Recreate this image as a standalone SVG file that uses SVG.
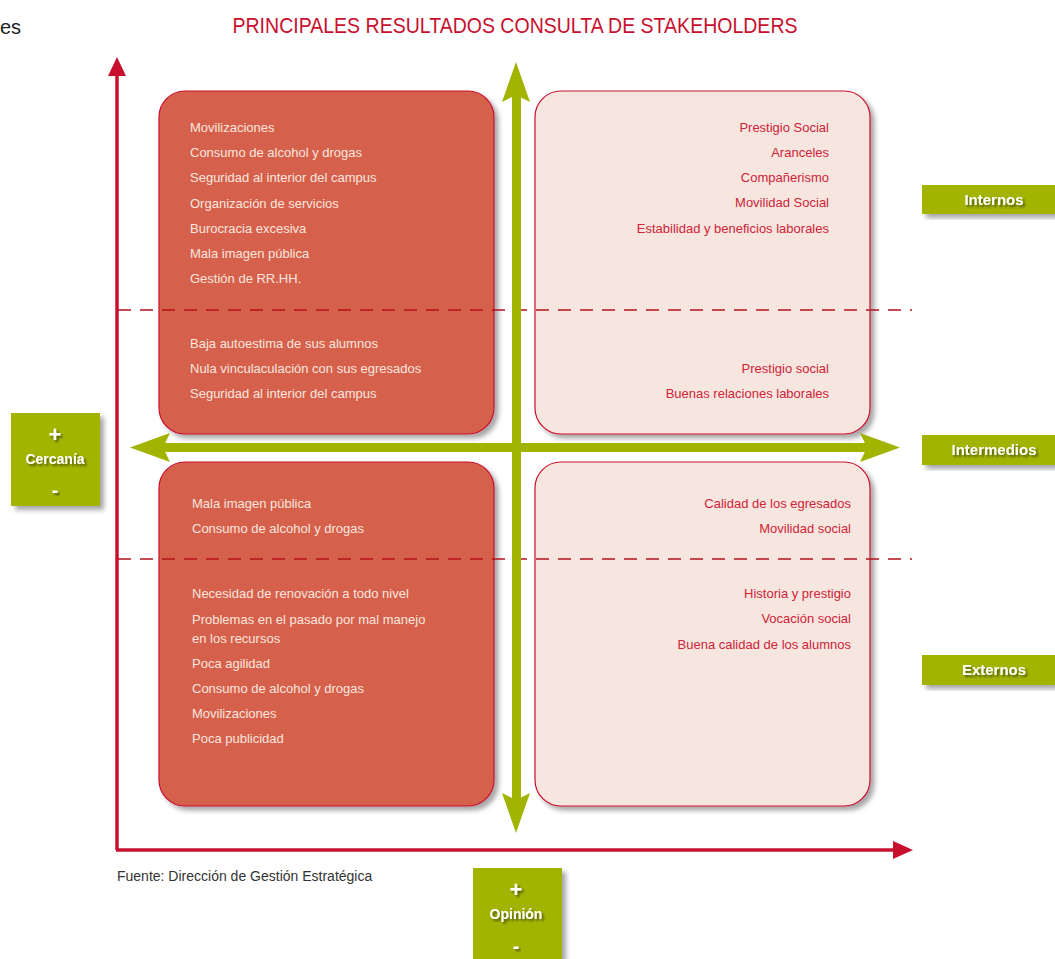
<svg xmlns="http://www.w3.org/2000/svg" width="1055" height="959" viewBox="0 0 1055 959">
<defs>
<filter id="sh" x="-10%" y="-10%" width="130%" height="130%">
<feGaussianBlur in="SourceAlpha" stdDeviation="2.5"/>
<feOffset dx="4" dy="4" result="b"/>
<feComponentTransfer><feFuncA type="linear" slope="0.35"/></feComponentTransfer>
<feMerge><feMergeNode/><feMergeNode in="SourceGraphic"/></feMerge>
</filter>
<filter id="ts" x="-10%" y="-30%" width="130%" height="180%">
<feGaussianBlur in="SourceAlpha" stdDeviation="1"/>
<feOffset dx="1.5" dy="1.5"/>
<feComponentTransfer><feFuncA type="linear" slope="0.5"/></feComponentTransfer>
<feMerge><feMergeNode/><feMergeNode in="SourceGraphic"/></feMerge>
</filter>
<marker id="redArrow" markerWidth="10" markerHeight="10" refX="8" refY="5" orient="auto" markerUnits="userSpaceOnUse" viewBox="0 0 10 10">
<path d="M0,0 L10,5 L0,10 Z" fill="#c8102e"/>
</marker>
</defs>
<style>
.t{font-family:"Liberation Sans",Arial,sans-serif;font-size:13px}
.w{fill:#fbe6df}
.r{fill:#cf2338;text-anchor:end}
.dark{fill:#d5604c;stroke:#c8102e;stroke-width:1.2}
.light{fill:#f7e6df;stroke:#c8102e;stroke-width:1.2}
.gbox{fill:#a2b300}
.gl{font-family:"Liberation Sans",Arial,sans-serif;font-weight:bold;fill:#fff;text-anchor:middle}
.dash{stroke:#b5121b;stroke-width:1.6;stroke-dasharray:13 9;fill:none}
</style>
<rect width="1055" height="959" fill="#fff"/>
<text x="0" y="34" font-family="Liberation Sans,Arial,sans-serif" font-size="20" fill="#222">es</text>
<text x="515" y="33" font-family="Liberation Sans,Arial,sans-serif" font-size="22" fill="#c8102e" text-anchor="middle" textLength="565" lengthAdjust="spacingAndGlyphs">PRINCIPALES RESULTADOS CONSULTA DE STAKEHOLDERS</text>

<g id="boxes">
<g id="q-top-left">
<rect class="dark" x="159" y="91" width="335" height="343" rx="26" filter="url(#sh)"/>
<text class="t w" x="190" y="132">Movilizaciones</text>
<text class="t w" x="190" y="157">Consumo de alcohol y drogas</text>
<text class="t w" x="190" y="182">Seguridad al interior del campus</text>
<text class="t w" x="190" y="208">Organización de servicios</text>
<text class="t w" x="190" y="233">Burocracia excesiva</text>
<text class="t w" x="190" y="258">Mala imagen pública</text>
<text class="t w" x="190" y="283">Gestión de RR.HH.</text>
<text class="t w" x="190" y="348">Baja autoestima de sus alumnos</text>
<text class="t w" x="190" y="373">Nula vinculaculación con sus egresados</text>
<text class="t w" x="190" y="398">Seguridad al interior del campus</text>
</g>
<g id="q-top-right">
<rect class="light" x="535" y="91" width="335" height="343" rx="26" filter="url(#sh)"/>
<text class="t r" x="829" y="132">Prestigio Social</text>
<text class="t r" x="829" y="157">Aranceles</text>
<text class="t r" x="829" y="182">Compañerismo</text>
<text class="t r" x="829" y="207">Movilidad Social</text>
<text class="t r" x="829" y="233">Estabilidad y beneficios laborales</text>
<text class="t r" x="829" y="373">Prestigio social</text>
<text class="t r" x="829" y="398">Buenas relaciones laborales</text>
</g>
<g id="q-bottom-left">
<rect class="dark" x="159" y="462" width="335" height="344" rx="26" filter="url(#sh)"/>
<text class="t w" x="192" y="508">Mala imagen pública</text>
<text class="t w" x="192" y="533">Consumo de alcohol y drogas</text>
<text class="t w" x="192" y="598">Necesidad de renovación a todo nivel</text>
<text class="t w" x="192" y="624">Problemas en el pasado por mal manejo</text>
<text class="t w" x="192" y="643">en los recursos</text>
<text class="t w" x="192" y="668">Poca agilidad</text>
<text class="t w" x="192" y="693">Consumo de alcohol y drogas</text>
<text class="t w" x="192" y="718">Movilizaciones</text>
<text class="t w" x="192" y="743">Poca publicidad</text>
</g>
<g id="q-bottom-right">
<rect class="light" x="535" y="462" width="335" height="344" rx="26" filter="url(#sh)"/>
<text class="t r" x="851" y="508">Calidad de los egresados</text>
<text class="t r" x="851" y="533">Movilidad social</text>
<text class="t r" x="851" y="598">Historia y prestigio</text>
<text class="t r" x="851" y="623">Vocación social</text>
<text class="t r" x="851" y="649">Buena calidad de los alumnos</text>
</g>
</g>

<g id="connectors">
<line class="dash" x1="118" y1="310" x2="912" y2="310"/>
<line class="dash" x1="118" y1="559" x2="912" y2="559"/>
<line x1="117" y1="850" x2="117" y2="70" stroke="#c8102e" stroke-width="3.5"/>
<path d="M117,57 L126,76 L108,76 Z" fill="#c8102e"/>
<line x1="116" y1="850" x2="898" y2="850" stroke="#c8102e" stroke-width="3.5"/>
<path d="M913,850 L893,841 L893,859 Z" fill="#c8102e"/>
<g fill="#a2b300">
<rect x="512" y="90" width="9" height="715"/>
<path d="M516,62 L530,102 L516,95 L502,102 Z"/>
<path d="M516,833 L502,793 L516,800 L530,793 Z"/>
<rect x="158" y="443" width="714" height="9"/>
<path d="M130,447.5 L170,433 L163,447.5 L170,462 Z"/>
<path d="M900,447.5 L860,433 L867,447.5 L860,462 Z"/>
</g>
</g>

<g id="label-internos">
<rect class="gbox" x="922" y="185" width="133" height="29" filter="url(#sh)"/>
<text class="gl" x="994" y="205" font-size="15" filter="url(#ts)">Internos</text>
</g>
<g id="label-intermedios">
<rect class="gbox" x="922" y="435" width="133" height="30" filter="url(#sh)"/>
<text class="gl" x="994" y="455" font-size="15" filter="url(#ts)">Intermedios</text>
</g>
<g id="label-externos">
<rect class="gbox" x="922" y="655" width="133" height="30" filter="url(#sh)"/>
<text class="gl" x="994" y="675" font-size="15" filter="url(#ts)">Externos</text>
</g>
<g id="label-cercania">
<rect class="gbox" x="11" y="413" width="89" height="93" filter="url(#sh)"/>
<text class="gl" x="55" y="442" font-size="22" filter="url(#ts)">+</text>
<text class="gl" x="55" y="464" font-size="14" filter="url(#ts)">Cercanía</text>
<text class="gl" x="55" y="497" font-size="20" filter="url(#ts)">-</text>
</g>
<g id="label-opinion">
<rect class="gbox" x="473" y="868" width="89" height="95" filter="url(#sh)"/>
<text class="gl" x="516" y="897" font-size="22" filter="url(#ts)">+</text>
<text class="gl" x="516" y="919" font-size="14" filter="url(#ts)">Opinión</text>
<text class="gl" x="516" y="953" font-size="20" filter="url(#ts)">-</text>
</g>
<text x="117" y="881" font-family="Liberation Sans,Arial,sans-serif" font-size="14" fill="#333">Fuente: Dirección de Gestión Estratégica</text>
</svg>
